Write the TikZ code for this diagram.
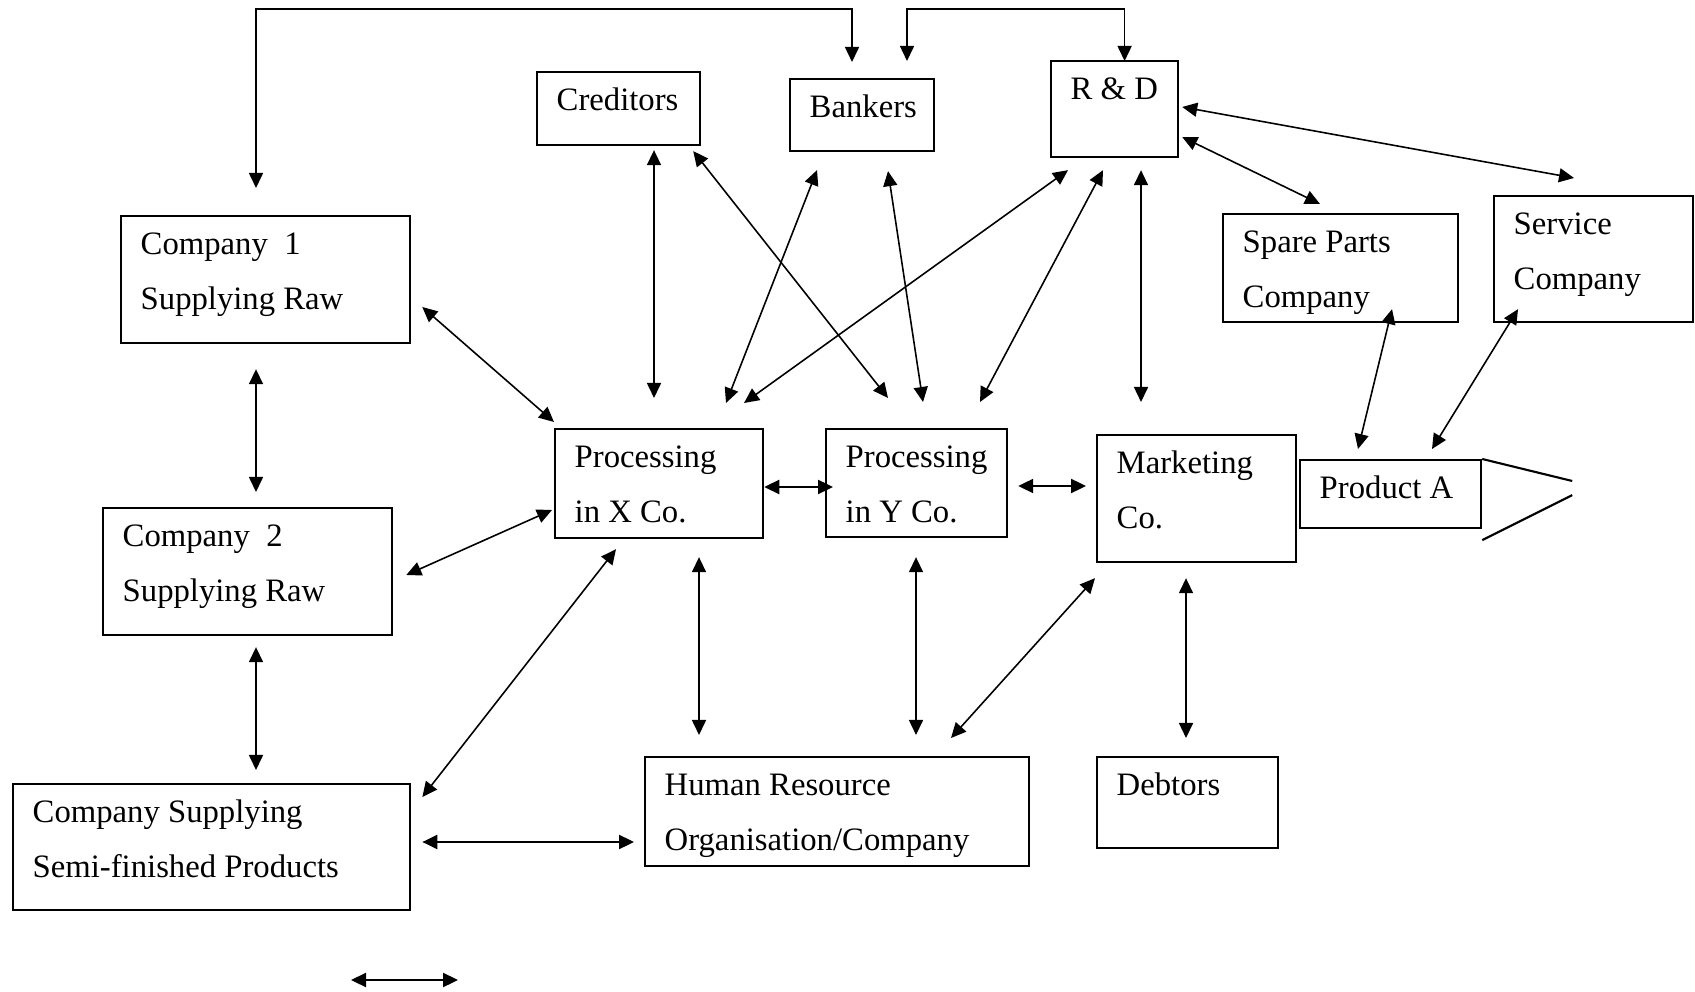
\documentclass[tikz,border=0pt]{standalone}
\usepackage{fontspec}
\setmainfont{Liberation Serif}
\usetikzlibrary{arrows.meta,calc}

\newcommand{\boxtext}[1]{\begin{tabular}[t]{@{}l@{}}#1\end{tabular}}

\tikzset{
  box/.style={draw, line width=0.6pt, anchor=north west, inner sep=0pt},
  lbl/.style={anchor=base west, inner sep=0pt,
    xshift=0.2cm, yshift=-0.39cm, font=\fontsize{9.3}{15.8}\selectfont},
  dbl/.style={line width=0.45pt,
    {Triangle[length=0.15cm,width=0.14cm]}-{Triangle[length=0.15cm,width=0.14cm]}},
  thk/.style={dbl, line width=0.65pt}
}

\begin{document}
\begin{tikzpicture}[x=0.01cm, y=-0.01cm]
\useasboundingbox (0,0) rectangle (1695,992);

\node[box, minimum width=1.63cm, minimum height=0.73cm] at (536,71) [label={[lbl]north west:Creditors}] (cred) {};
\node[box, minimum width=1.44cm, minimum height=0.72cm] at (789,78) [label={[lbl]north west:Bankers}] (bank) {};
\node[box, minimum width=1.27cm, minimum height=0.96cm] at (1050,60) [label={[lbl]north west:R \& D}] (rd) {};
\node[box, minimum width=2.89cm, minimum height=1.27cm] at (120,215) [label={[lbl]north west:\boxtext{Company~~1\\Supplying Raw}}] (comp1) {};
\node[box, minimum width=2.89cm, minimum height=1.27cm] at (102,507) [label={[lbl]north west:\boxtext{Company~~2\\Supplying Raw}}] (comp2) {};
\node[box, minimum width=3.97cm, minimum height=1.26cm] at (12,783) [label={[lbl]north west:\boxtext{Company Supplying\\Semi-finished Products}}] (semi) {};
\node[box, minimum width=2.08cm, minimum height=1.09cm] at (554,428) [label={[lbl]north west:\boxtext{Processing\\in X Co.}}] (procx) {};
\node[box, minimum width=1.81cm, minimum height=1.08cm] at (825,428) [label={[lbl]north west:\boxtext{Processing\\in Y Co.}}] (procy) {};
\node[box, minimum width=1.99cm, minimum height=1.27cm] at (1096,434) [label={[lbl]north west:\boxtext{Marketing\\Co.}}] (mkt) {};
\node[box, minimum width=1.81cm, minimum height=0.68cm] at (1299,459) [label={[lbl]north west:Product A}] (prod) {};
\node[box, minimum width=2.35cm, minimum height=1.08cm] at (1222,213) [label={[lbl]north west:\boxtext{Spare Parts\\Company}}] (spare) {};
\node[box, minimum width=1.99cm, minimum height=1.26cm] at (1493,195) [label={[lbl]north west:\boxtext{Service\\Company}}] (serv) {};
\node[box, minimum width=3.84cm, minimum height=1.09cm] at (644,756) [label={[lbl]north west:\boxtext{Human Resource\\Organisation/Company}}] (hr) {};
\node[box, minimum width=1.81cm, minimum height=0.91cm] at (1096,756) [label={[lbl]north west:Debtors}] (debt) {};

% product pointer
\draw[line width=0.6pt] (prod.north east) -- ++(90,22);
\draw[line width=0.6pt] ($(prod.south east)+(0,11)$) -- ++(90,-45);

% loops over the top
\draw[dbl] ($(comp1.north west)+(136,-27)$) -- ++(0,-179) -| ($(bank.north west)+(63,-16)$);
\draw[dbl] ($(bank.north west)+(118,-17)$) -- ++(0,-52) -| ($(rd.north)+(10,1)$);

\path[dbl]
($(comp1.south west)+(136,25)$) edge ($(comp2.north west)+(154,-15)$)
($(comp2.south west)+(154,11)$) edge ($(semi.north west)+(244,-13)$)
($(comp1.north east)+(11,92)$) edge ($(procx.north west)+(0,-6)$)
($(comp2.north east)+(13,68)$) edge ($(procx.north west)+(-2,82)$)
($(semi.north east)+(11,14)$) edge ($(procx.south west)+(62,10)$)
($(procx.south west)+(145,18)$) edge ($(hr.north west)+(55,-21)$)
($(cred.south west)+(118,4)$) edge ($(procx.north west)+(100,-30)$)
($(cred.south east)+(-8,5)$) edge ($(procy.north west)+(63,-30)$)
($(bank.south west)+(28,18)$) edge ($(procx.north west)+(172,-25)$)
($(rd.south west)+(18,12)$) edge ($(procx.north west)+(190,-25)$)
($(bank.south west)+(99,19)$) edge ($(procy.north west)+(98,-26)$)
($(rd.south west)+(53,12)$) edge ($(procy.north west)+(155,-26)$)
($(rd.south west)+(91,12)$) edge ($(mkt.north west)+(45,-32)$)
($(rd.north east)+(3,77)$) edge ($(spare.north west)+(98,-9)$)
($(rd.north east)+(3,47)$) edge ($(serv.north west)+(81,-17)$)
($(spare.south west)+(170,-14)$) edge ($(prod.north west)+(59,-10)$)
($(serv.south west)+(25,-14)$) edge ($(prod.north west)+(133,-10)$)
($(procy.south west)+(91,19)$) edge ($(hr.north west)+(272,-21)$)
($(mkt.south west)+(-1,15)$) edge ($(hr.north west)+(307,-18)$)
($(mkt.south west)+(90,15)$) edge ($(debt.north west)+(90,-18)$);

\path[thk]
($(procx.north east)+(0,59)$) edge ($(procy.north west)+(8,59)$)
($(procy.north east)+(10,58)$) edge ($(mkt.north west)+(-10,52)$)
($(semi.north east)+(11,59)$) edge ($(hr.north west)+(-10,86)$);

\coordinate (keyl) at (351,980);
\coordinate (keyr) at (458,980);
\draw[thk] (keyl) -- (keyr);

\end{tikzpicture}
\end{document}
